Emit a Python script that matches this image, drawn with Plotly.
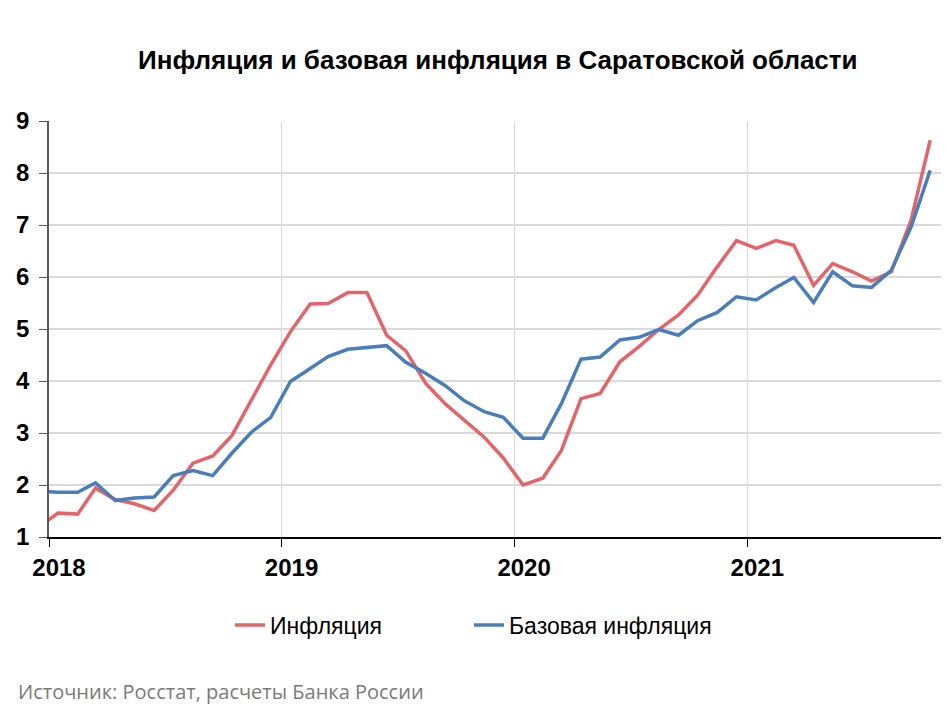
import pandas as pd
import plotly.graph_objects as go

# monthly data, Dec 2017 .. Oct 2021 (Dec 2017 only shows as a clipped stub)
months = pd.date_range('2017-12-01', periods=47, freq='MS') + pd.Timedelta(days=14)

inflation = [
    1.18,
    1.46, 1.44, 1.94, 1.72, 1.64, 1.51, 1.90, 2.42, 2.56, 2.95, 3.64, 4.31,
    4.95, 5.48, 5.49, 5.70, 5.70, 4.88, 4.58, 3.96, 3.56, 3.24, 2.92, 2.52,
    2.00, 2.13, 2.66, 3.66, 3.76, 4.37, 4.66, 4.99, 5.27, 5.65, 6.20, 6.70,
    6.55, 6.70, 6.61, 5.84, 6.26, 6.10, 5.92, 6.10, 7.09, 8.63,
]
core_inflation = [
    1.88,
    1.86, 1.86, 2.04, 1.70, 1.75, 1.77, 2.18, 2.28, 2.18, 2.61, 3.02, 3.30,
    3.99, 4.24, 4.47, 4.61, 4.65, 4.68, 4.36, 4.15, 3.91, 3.62, 3.41, 3.30,
    2.90, 2.90, 3.56, 4.42, 4.46, 4.79, 4.84, 4.99, 4.88, 5.16, 5.32, 5.62,
    5.56, 5.80, 5.99, 5.51, 6.10, 5.83, 5.80, 6.13, 6.96, 8.05,
]

year_ticks = ['2018-01-01', '2019-01-01', '2020-01-01', '2021-01-01']
year_labels = ['2018', '2019', '2020', '2021']
y_ticks = [1, 2, 3, 4, 5, 6, 7, 8, 9]

title = 'Инфляция и базовая инфляция в Саратовской области'
source = 'Источник: Росстат, расчеты Банка России'

colors = {'Инфляция': '#E3656A', 'Базовая инфляция': '#4A7EBB'}

# the page body adds an 8px margin, so the figure is drawn a bit smaller
fig_w, fig_h = 942, 704

fig = go.Figure()
series = [('Инфляция', inflation, 'legend'), ('Базовая инфляция', core_inflation, 'legend2')]
for name, values, leg in series:
    fig.add_trace(
        go.Scatter(
            x=months,
            y=values,
            mode='lines',
            name=name,
            legend=leg,
            line=dict(color=colors[name], width=3.5),
        )
    )

tick_font = dict(family='Liberation Sans, Arial', size=24, color='#000000')
legend_font = dict(family='Liberation Sans, Arial', size=23, color='#000000')


def legend_params(x: float) -> dict:
    return dict(
        orientation='h',
        xref='container',
        yref='container',
        x=x,
        xanchor='left',
        y=0.1236,
        yanchor='middle',
        font=legend_font,
        bgcolor='rgba(0,0,0,0)',
    )


fig.update_layout(
    width=fig_w,
    height=fig_h,
    plot_bgcolor='white',
    paper_bgcolor='white',
    margin=dict(l=41, r=9, t=113, b=175, pad=0),
    title=dict(
        text='<b>' + title + '</b>',
        xref='container',
        yref='container',
        x=0.520,
        xanchor='center',
        y=0.926,
        yanchor='middle',
        font=dict(family='Liberation Sans, Arial', size=26, color='#000000'),
    ),
    xaxis=dict(
        type='date',
        range=['2018-01-01', '2021-11-01'],
        tickvals=year_ticks,
        ticktext=['<b>' + t + '</b>' for t in year_labels],
        tickfont=tick_font,
        ticks='outside',
        ticklen=8,
        tickcolor='#000000',
        ticklabelshift=10,
        ticklabelstandoff=0,
        showline=True,
        linecolor='#000000',
        linewidth=1.5,
        showgrid=True,
        gridcolor='#DADADA',
        gridwidth=1,
        zeroline=False,
        automargin=False,
    ),
    yaxis=dict(
        range=[1, 9],
        tickvals=y_ticks,
        ticktext=['<b>' + str(v) + '</b>' for v in y_ticks],
        tickfont=tick_font,
        ticks='outside',
        ticklen=8,
        tickcolor='#595959',
        ticklabelstandoff=5,
        showline=True,
        linecolor='#595959',
        linewidth=1.5,
        showgrid=True,
        gridcolor='#DADADA',
        gridwidth=1.5,
        zeroline=False,
        automargin=False,
    ),
    legend=legend_params(0.2357),
    legend2=legend_params(0.4894),
    showlegend=True,
)

fig.add_annotation(
    text=source,
    xref='paper',
    yref='paper',
    x=-0.037,
    y=-0.371,
    xanchor='left',
    yanchor='middle',
    showarrow=False,
    font=dict(family='Open Sans', size=20, color='#7A7A7A'),
)

fig.write_html('out.html')
